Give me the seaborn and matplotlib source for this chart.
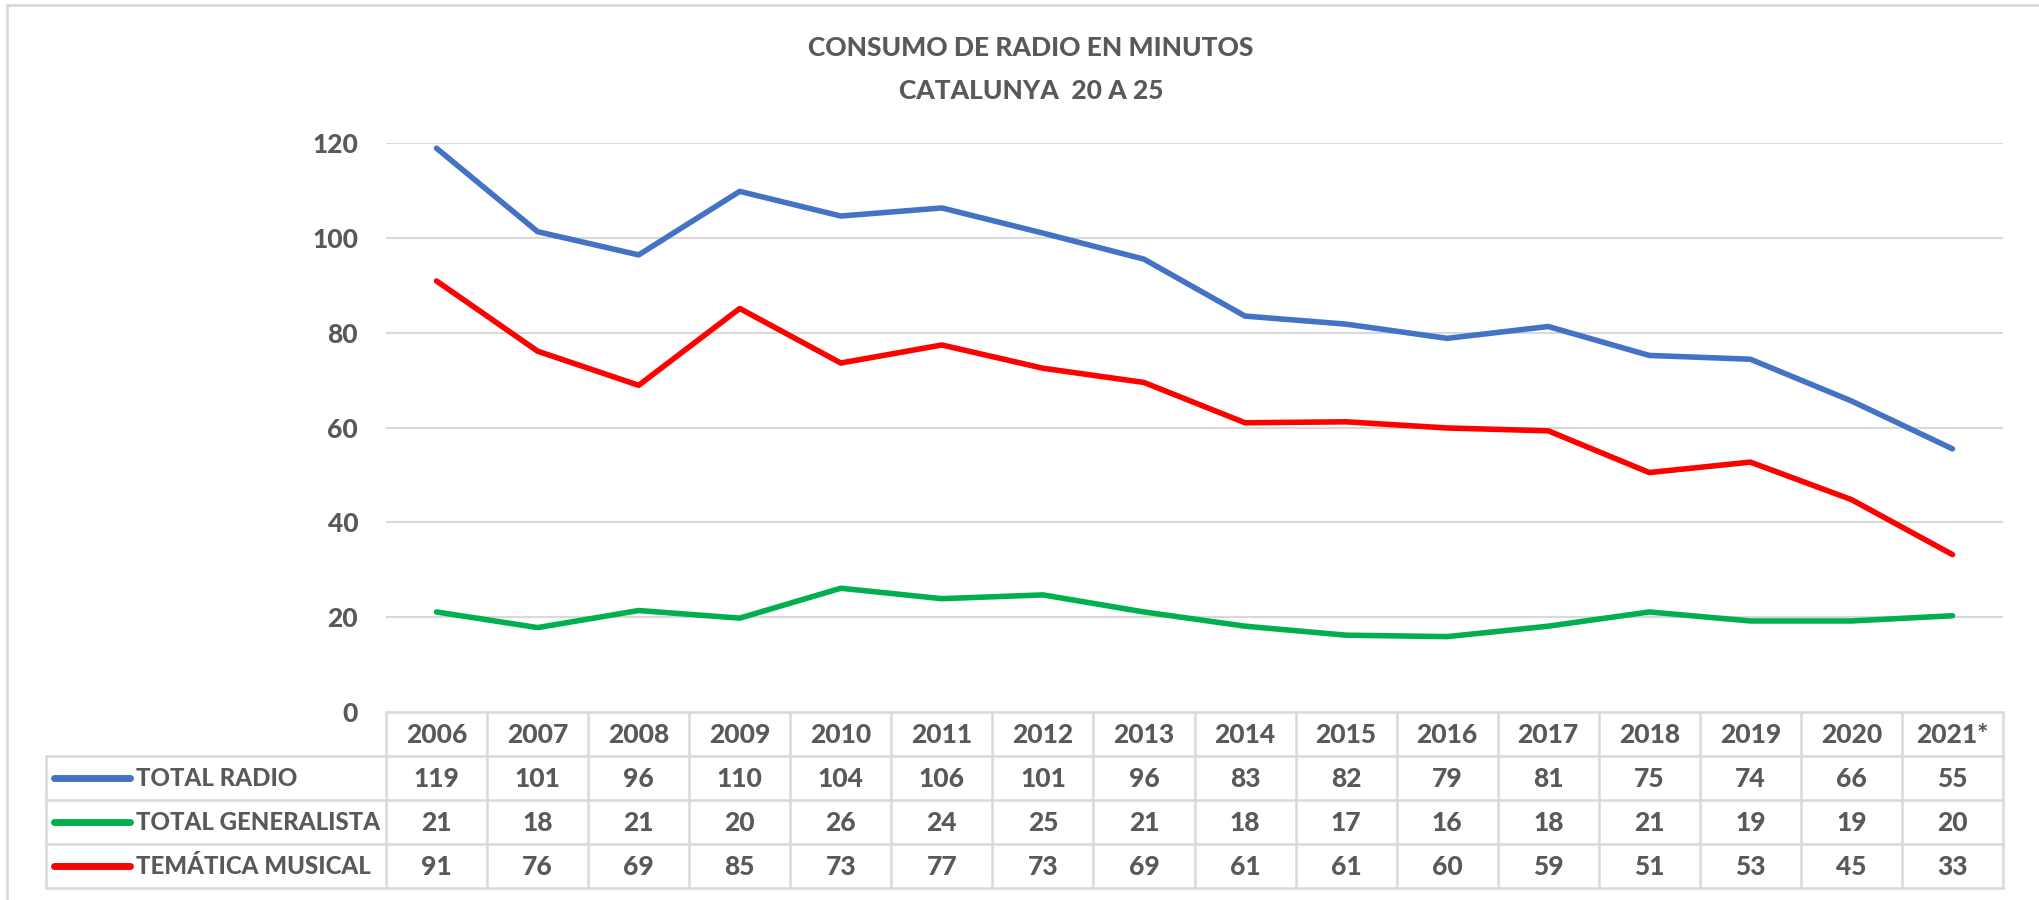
import matplotlib
matplotlib.use("Agg")
import pandas as pd
import matplotlib.pyplot as plt
import seaborn as sns

# data (line values, table values as printed)
years = ["2006", "2007", "2008", "2009", "2010", "2011", "2012", "2013",
         "2014", "2015", "2016", "2017", "2018", "2019", "2020", "2021*"]
total_radio = [118.9, 101.3, 96.4, 109.8, 104.6, 106.3, 101.0, 95.5,
               83.5, 81.8, 78.8, 81.3, 75.2, 74.4, 65.6, 55.5]
total_generalista = [21.1, 17.8, 21.4, 19.8, 26.1, 23.9, 24.7, 21.1,
                     18.1, 16.2, 15.9, 18.1, 21.1, 19.2, 19.2, 20.3]
tematica_musical = [90.9, 76.1, 68.9, 85.1, 73.6, 77.4, 72.5, 69.5,
                    61.0, 61.2, 59.9, 59.3, 50.5, 52.7, 44.8, 33.2]
radio_labels = [119, 101, 96, 110, 104, 106, 101, 96, 83, 82, 79, 81, 75, 74, 66, 55]
generalista_labels = [21, 18, 21, 20, 26, 24, 25, 21, 18, 17, 16, 18, 21, 19, 19, 20]
musical_labels = [91, 76, 69, 85, 73, 77, 73, 69, 61, 61, 60, 59, 51, 53, 45, 33]

series_names = ["TOTAL RADIO", "TOTAL GENERALISTA", "TEMÁTICA MUSICAL"]
colors = ["#4472C4", "#00B050", "#FF0000"]
y_ticks = [0, 20, 40, 60, 80, 100, 120]

sns.set_style("white")
plt.rcParams["font.family"] = ["Lato", "DejaVu Sans"]
TXT = "#595959"
GRID = "#d9d9d9"
FS = 19
WT = 900

W, H = 2039, 900
fig = plt.figure(figsize=(W / 100, H / 100), dpi=100)


def box(l, t, r, b):
    return [l / W, 1 - b / H, (r - l) / W, (b - t) / H]


# main plot
ax = fig.add_axes(box(386, 143, 2003, 712))
n = len(years)
pos = list(range(n))
df = pd.DataFrame({
    "pos": pos * 3,
    "value": total_radio + total_generalista + tematica_musical,
    "serie": [s for s in series_names for _ in range(n)],
})
sns.lineplot(data=df, x="pos", y="value", hue="serie", palette=dict(zip(series_names, colors)),
             linewidth=4, legend=False, ax=ax, solid_capstyle="round", solid_joinstyle="round")
ax.set_xlim(-0.5, n - 0.5)
ax.set_ylim(0, 120)
ax.set_yticks(y_ticks)
ax.set_yticklabels([str(t) for t in y_ticks], color=TXT, fontweight=WT, fontsize=FS)
ax.set_xticks([])
ax.set_xlabel("")
ax.set_ylabel("")
ax.tick_params(axis="y", length=0, pad=20)
for t in y_ticks[1:]:
    ax.axhline(t, color=GRID, lw=1.5, zorder=0)
for s in ax.spines.values():
    s.set_visible(False)

# data table
tab = fig.add_axes(box(46, 712, 2003, 888))
scale = (2003 - 386) / n
left = -0.5 - (386 - 46) / scale
tab.set_xlim(left, n - 0.5)
tab.set_ylim(4, 0)
tab.axis("off")
kw = dict(color=GRID, lw=1.8, clip_on=False)
tab.plot([-0.5, n - 0.5], [0, 0], **kw)
for r in range(1, 5):
    tab.plot([left, n - 0.5], [r, r], **kw)
for i in range(n + 1):
    tab.plot([i - 0.5, i - 0.5], [0, 4], **kw)
tab.plot([left, left], [1, 4], **kw)

for i, y in enumerate(years):
    tab.text(i, 0.52, y, ha="center", va="center", color=TXT, fontweight=WT, fontsize=FS)
rows = [radio_labels, generalista_labels, musical_labels]
for r, (name, c, vals) in enumerate(zip(series_names, colors, rows), start=1):
    tab.plot([left + 8 / scale, left + 84 / scale], [r + 0.5, r + 0.5], color=c, lw=5,
             solid_capstyle="round", clip_on=False)
    tab.text(left + 90 / scale, r + 0.52, name, ha="left", va="center", color=TXT,
             fontweight=WT, fontsize=17.3)
    for i, v in enumerate(vals):
        tab.text(i, r + 0.52, str(v), ha="center", va="center", color=TXT,
                 fontweight=WT, fontsize=FS)

# title
fig.text(1031 / W, 1 - 48 / H, "CONSUMO DE RADIO EN MINUTOS", ha="center", va="center",
         color=TXT, fontweight=WT, fontsize=FS)
fig.text(1031 / W, 1 - 91 / H, "CATALUNYA  20 A 25", ha="center", va="center",
         color=TXT, fontweight=WT, fontsize=FS)

# chart border (top and left visible in the screenshot)
fig.add_artist(plt.Line2D([7 / W, 7 / W], [0, 1 - 5 / H], color=GRID, lw=2))
fig.add_artist(plt.Line2D([7 / W, 1], [1 - 5 / H, 1 - 5 / H], color=GRID, lw=2))

fig.savefig("out.png", dpi=100)
